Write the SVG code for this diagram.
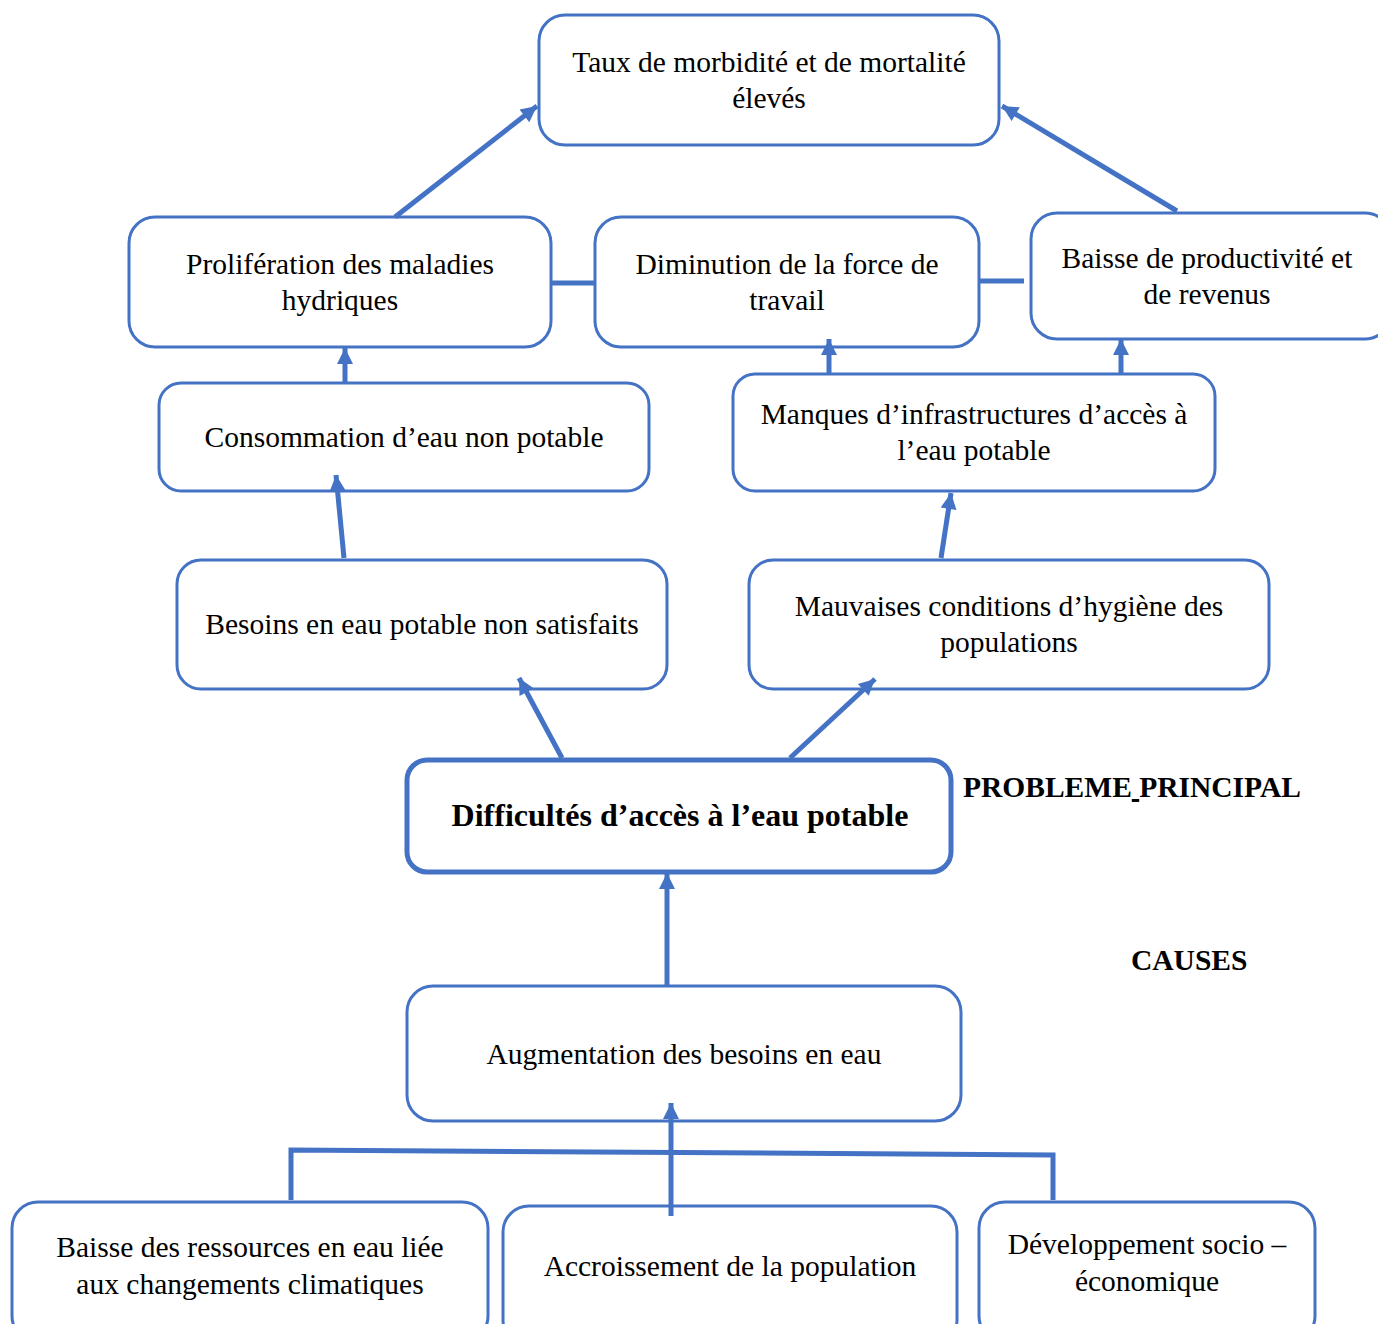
<svg xmlns="http://www.w3.org/2000/svg" width="1378" height="1324" viewBox="0 0 1378 1324">
  <style>
    .box { fill: #ffffff; stroke: #4472C4; stroke-width: 3; }
    .main { fill: #ffffff; stroke: #4472C4; stroke-width: 5; }
    .lbl { font-family: "Liberation Serif", "Times New Roman", serif; font-size: 29.5px; fill: #000000; text-anchor: middle; }
    .bold { font-family: "Liberation Serif", "Times New Roman", serif; font-size: 32px; font-weight: bold; fill: #000000; }
    .tag { font-family: "Liberation Serif", "Times New Roman", serif; font-size: 29.5px; font-weight: bold; fill: #000000; }
    .arr { stroke: #4472C4; stroke-width: 5; fill: none; marker-end: url(#head); }
    .ln { stroke: #4472C4; stroke-width: 5; fill: none; }
  </style>
  <defs>
    <marker id="head" viewBox="0 0 10 10" refX="10" refY="5" markerUnits="userSpaceOnUse" markerWidth="18" markerHeight="16" orient="auto">
      <path d="M0,0 L10,5 L0,10 Z" fill="#4472C4"/>
    </marker>
  </defs>
  <rect width="1378" height="1324" fill="#ffffff"/>

  <!-- effects -->
  <g id="n-taux">
    <rect class="box" x="539" y="15" width="460" height="130" rx="26"/>
    <text class="lbl" x="769" y="72">Taux de morbidité et de mortalité</text>
    <text class="lbl" x="769" y="108">élevés</text>
  </g>
  <g id="n-proliferation">
    <rect class="box" x="129" y="217" width="422" height="130" rx="26"/>
    <text class="lbl" x="340" y="274">Prolifération des maladies</text>
    <text class="lbl" x="340" y="310">hydriques</text>
  </g>
  <g id="n-diminution">
    <rect class="box" x="595" y="217" width="384" height="130" rx="26"/>
    <text class="lbl" x="787" y="274">Diminution de la force de</text>
    <text class="lbl" x="787" y="310">travail</text>
  </g>
  <g id="n-productivite">
    <rect class="box" x="1031" y="213" width="360" height="126" rx="26"/>
    <text class="lbl" x="1207" y="268">Baisse de productivité et</text>
    <text class="lbl" x="1207" y="304">de revenus</text>
  </g>
  <g id="n-consommation">
    <rect class="box" x="159" y="383" width="490" height="108" rx="22"/>
    <text class="lbl" x="404" y="447">Consommation d’eau non potable</text>
  </g>
  <g id="n-infrastructures">
    <rect class="box" x="733" y="374" width="482" height="117" rx="22"/>
    <text class="lbl" x="974" y="424">Manques d’infrastructures d’accès à</text>
    <text class="lbl" x="974" y="460">l’eau potable</text>
  </g>
  <g id="n-besoins">
    <rect class="box" x="177" y="560" width="490" height="129" rx="24"/>
    <text class="lbl" x="422" y="634">Besoins en eau potable non satisfaits</text>
  </g>
  <g id="n-hygiene">
    <rect class="box" x="749" y="560" width="520" height="129" rx="24"/>
    <text class="lbl" x="1009" y="616">Mauvaises conditions d’hygiène des</text>
    <text class="lbl" x="1009" y="652">populations</text>
  </g>

  <!-- core problem -->
  <g id="n-probleme">
    <rect class="main" x="407" y="760" width="544" height="112" rx="20"/>
    <text class="bold" x="680" y="826" text-anchor="middle">Difficultés d’accès à l’eau potable</text>
  </g>
  <text class="tag" x="963" y="797">PROBLEME<tspan text-decoration="underline"> </tspan>PRINCIPAL</text>
  <text class="tag" x="1131" y="970">CAUSES</text>

  <!-- causes -->
  <g id="n-augmentation">
    <rect class="box" x="407" y="986" width="554" height="135" rx="26"/>
    <text class="lbl" x="684" y="1064">Augmentation des besoins en eau</text>
  </g>
  <g id="n-ressources">
    <rect class="box" x="12" y="1202" width="476" height="140" rx="26"/>
    <text class="lbl" x="250" y="1257">Baisse des ressources en eau liée</text>
    <text class="lbl" x="250" y="1294">aux changements climatiques</text>
  </g>
  <g id="n-population">
    <rect class="box" x="503" y="1206" width="454" height="140" rx="26"/>
    <text class="lbl" x="730" y="1276">Accroissement de la population</text>
  </g>
  <g id="n-developpement">
    <rect class="box" x="979" y="1202" width="336" height="140" rx="26"/>
    <text class="lbl" x="1147" y="1254">Développement socio –</text>
    <text class="lbl" x="1147" y="1291">économique</text>
  </g>

  <!-- connectors, drawn over the boxes so arrow tips stay visible -->
  <g id="connectors">
    <line class="arr" x1="395" y1="217" x2="537" y2="106"/>
    <line class="arr" x1="1177" y1="211" x2="1002" y2="106"/>
    <line class="ln" x1="551" y1="283" x2="595" y2="283"/>
    <line class="ln" x1="979" y1="281" x2="1024" y2="281"/>
    <line class="arr" x1="345" y1="383" x2="345" y2="348"/>
    <line class="arr" x1="829" y1="374" x2="829" y2="339"/>
    <line class="arr" x1="1121" y1="374" x2="1121" y2="339"/>
    <line class="arr" x1="344" y1="558" x2="336" y2="475"/>
    <line class="arr" x1="941" y1="558" x2="951" y2="493"/>
    <line class="arr" x1="562" y1="758" x2="519" y2="678"/>
    <line class="arr" x1="790" y1="758" x2="875" y2="679"/>
    <line class="arr" x1="667" y1="985" x2="667" y2="873"/>
    <line class="arr" x1="671" y1="1216" x2="671" y2="1103"/>
    <polyline class="ln" points="291,1200 291,1150 1053,1155 1053,1200"/>
  </g>
</svg>
